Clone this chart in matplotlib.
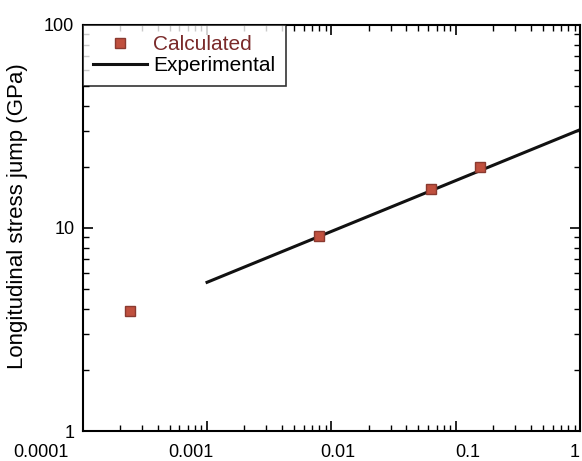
import numpy as np
import matplotlib.pyplot as plt
import matplotlib.transforms as mtransforms
from matplotlib.ticker import LogLocator, FixedLocator, NullFormatter

plt.rcParams['font.family'] = ['Liberation Sans', 'DejaVu Sans']

# ==========================================
# Data
# ==========================================
calc_x = [2.4e-4, 7.9e-3, 6.3e-2, 0.157]
calc_y = [3.9, 9.1, 15.6, 20.0]

exp_x = [1e-3, 1.0]
exp_y = [5.4, 30.5]

xticks = [1e-4, 1e-3, 1e-2, 1e-1, 1]
xtick_labels = ['0.0001', '0.001', '0.01', '0.1', '1']
yticks = [1, 10, 100]
ytick_labels = ['1', '10', '100']

# ==========================================
# Figure
# ==========================================
fig = plt.figure(figsize=(5.82, 4.61), dpi=100)
ax = fig.add_axes([0.142, 0.065, 0.855, 0.881])

ax.plot(exp_x, exp_y, '-', color='#111111', lw=2.2, label='Experimental', zorder=2)
ax.plot(calc_x, calc_y, 's', ms=7.5, color='#c0503e', mec='#8a3a30', mew=1.0,
        label='Calculated', linestyle='none', zorder=3)

ax.set_xscale('log')
ax.set_yscale('log')
ax.set_xlim(1e-4, 1)
ax.set_ylim(1, 100)

ax.xaxis.set_major_locator(FixedLocator(xticks))
ax.set_xticklabels(xtick_labels)
ax.yaxis.set_major_locator(FixedLocator(yticks))
ax.set_yticklabels(ytick_labels)
ax.xaxis.set_minor_locator(LogLocator(base=10, subs=np.arange(2, 10)))
ax.yaxis.set_minor_locator(LogLocator(base=10, subs=np.arange(2, 10)))
ax.xaxis.set_minor_formatter(NullFormatter())
ax.yaxis.set_minor_formatter(NullFormatter())

ax.tick_params(which='both', direction='in', top=True, right=True, labelsize=13)
ax.tick_params(axis='x', which='major', pad=9)
ax.tick_params(axis='y', which='major', pad=6)
ax.tick_params(which='major', length=7, width=1.2)
ax.tick_params(which='minor', length=4, width=1.0)
for s in ax.spines.values():
    s.set_linewidth(1.5)

# scanned original has its x labels shifted a little off their ticks
x_shift = [-42, -16, 6, 12, -6]
for lab, dx in zip(ax.get_xticklabels(), x_shift):
    lab.set_transform(lab.get_transform() +
                      mtransforms.ScaledTranslation(dx / 100, 0, fig.dpi_scale_trans))

ax.set_ylabel('Longitudinal stress jump (GPa)', fontsize=16)
ax.yaxis.set_label_coords(-0.11, 0.53)

handles, labels = ax.get_legend_handles_labels()
leg = ax.legend(handles[::-1], labels[::-1], loc='upper left', fontsize=15,
                frameon=True, fancybox=False, edgecolor='black',
                borderaxespad=0.0, handlelength=2.6, handletextpad=0.3,
                borderpad=0.5, labelspacing=0.1)
leg.get_frame().set_linewidth(1.2)
leg.get_texts()[0].set_color('#7a2a2a')

fig.savefig('out.png', dpi=100)
